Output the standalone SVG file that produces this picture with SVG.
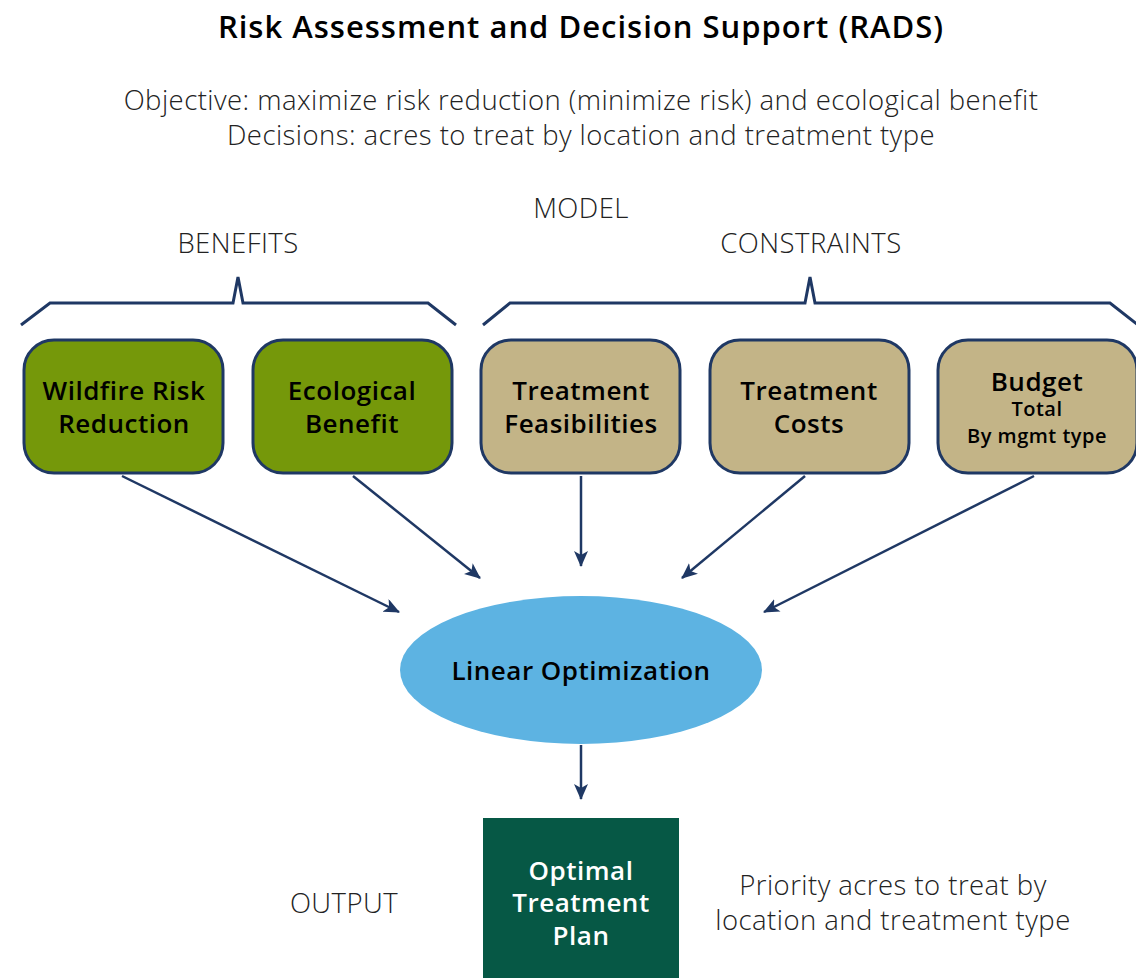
<svg xmlns="http://www.w3.org/2000/svg" width="1136" height="978" viewBox="0 0 1136 978">
  <style>
    .title { font-family: "Open Sans", "Liberation Sans", sans-serif; font-weight: 600; font-size: 31px; letter-spacing: 1px; fill: #000; text-anchor: middle; }
    .light { font-family: "Open Sans", "Liberation Sans", sans-serif; font-weight: 300; font-size: 27.5px; letter-spacing: 0.45px; fill: #222; text-anchor: middle; }
    .label { font-family: "Open Sans", "Liberation Sans", sans-serif; font-weight: 600; font-size: 26px; letter-spacing: 0.5px; fill: #000; text-anchor: middle; }
    .small { font-family: "Open Sans", "Liberation Sans", sans-serif; font-weight: 600; font-size: 20px; letter-spacing: 0.5px; fill: #000; text-anchor: middle; }
    .white { fill: #fff; }
    .box { stroke: #1f3864; stroke-width: 3; }
    .benefit { fill: #75980a; }
    .constraint { fill: #c3b487; }
    .brace { fill: none; stroke: #1f3864; stroke-width: 3; stroke-linejoin: miter; }
    .edge { fill: none; stroke: #1f3864; stroke-width: 2.5; marker-end: url(#arrow); }
  </style>
  <defs>
    <marker id="arrow" viewBox="0 0 16 14" refX="15" refY="7" markerWidth="16" markerHeight="14" markerUnits="userSpaceOnUse" orient="auto">
      <path d="M0,0 L16,7 L0,14 L4,7 Z" fill="#1f3864"/>
    </marker>
  </defs>
  <rect width="1136" height="978" fill="#fff"/>

  <!-- headings -->
  <text class="title" x="581" y="38">Risk Assessment and Decision Support (RADS)</text>
  <text class="light" x="581" y="110">Objective: maximize risk reduction (minimize risk) and ecological benefit</text>
  <text class="light" x="581" y="145">Decisions: acres to treat by location and treatment type</text>
  <text class="light" x="581" y="218">MODEL</text>
  <text class="light" x="238" y="253">BENEFITS</text>
  <text class="light" x="811" y="253">CONSTRAINTS</text>

  <!-- braces -->
  <path class="brace" d="M21,325 L50,303 L233,303 L238,277 L243,303 L428,303 L456,325"/>
  <path class="brace" d="M483,325 L510,303 L805,303 L810,277 L815,303 L1110,303 L1138,325"/>

  <!-- benefit nodes -->
  <g id="wildfire-risk-reduction">
    <rect class="box benefit" x="24" y="340" width="199" height="133" rx="30"/>
    <text class="label" x="124" y="400">Wildfire Risk</text>
    <text class="label" x="124" y="433">Reduction</text>
  </g>
  <g id="ecological-benefit">
    <rect class="box benefit" x="253" y="340" width="199" height="133" rx="30"/>
    <text class="label" x="352" y="400">Ecological</text>
    <text class="label" x="352" y="433">Benefit</text>
  </g>

  <!-- constraint nodes -->
  <g id="treatment-feasibilities">
    <rect class="box constraint" x="481" y="340" width="199" height="133" rx="30"/>
    <text class="label" x="581" y="400">Treatment</text>
    <text class="label" x="581" y="433">Feasibilities</text>
  </g>
  <g id="treatment-costs">
    <rect class="box constraint" x="710" y="340" width="199" height="133" rx="30"/>
    <text class="label" x="809" y="400">Treatment</text>
    <text class="label" x="809" y="433">Costs</text>
  </g>
  <g id="budget">
    <rect class="box constraint" x="938" y="340" width="199" height="133" rx="30"/>
    <text class="label" x="1037" y="391">Budget</text>
    <text class="small" x="1037" y="416">Total</text>
    <text class="small" x="1037" y="443">By mgmt type</text>
  </g>

  <!-- optimizer -->
  <g id="linear-optimization">
    <ellipse cx="581" cy="670" rx="181" ry="74" fill="#5db3e2"/>
    <text class="label" x="581" y="680">Linear Optimization</text>
  </g>

  <!-- result -->
  <g id="optimal-treatment-plan">
    <rect x="483" y="818" width="196" height="170" fill="#065845"/>
    <text class="label white" x="581" y="880">Optimal</text>
    <text class="label white" x="581" y="912">Treatment</text>
    <text class="label white" x="581" y="945">Plan</text>
  </g>
  <text class="light" x="344" y="913">OUTPUT</text>
  <text class="light" x="893" y="895">Priority acres to treat by</text>
  <text class="light" x="893" y="930">location and treatment type</text>

  <!-- connectors -->
  <g id="connectors">
    <line class="edge" x1="122" y1="476" x2="399" y2="612"/>
    <line class="edge" x1="353" y1="476" x2="480" y2="578"/>
    <line class="edge" x1="581" y1="476" x2="581" y2="566"/>
    <line class="edge" x1="805" y1="476" x2="682" y2="578"/>
    <line class="edge" x1="1034" y1="476" x2="764" y2="612"/>
    <line class="edge" x1="581" y1="745" x2="581" y2="799"/>
  </g>
</svg>
